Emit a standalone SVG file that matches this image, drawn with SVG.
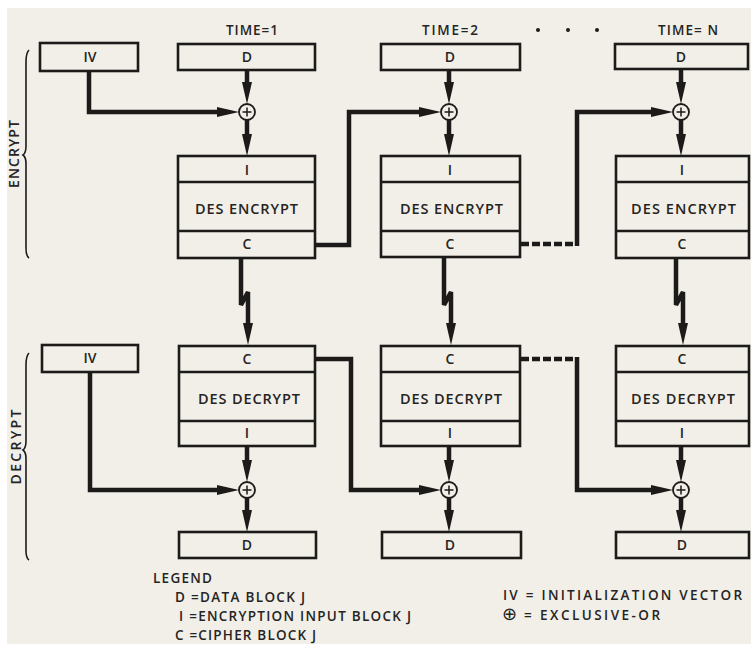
<svg xmlns="http://www.w3.org/2000/svg" width="751" height="645" viewBox="0 0 751 645">
<defs>
<style>
.bg{fill:#f1efe8}
.box{fill:none;stroke:#1d1b19;stroke-width:2.6}
.div{stroke:#1d1b19;stroke-width:2.4}
.wa{fill:none;stroke:#1d1b19;stroke-width:4.5;stroke-linejoin:miter;marker-end:url(#ah)}
.dash{fill:none;stroke:#1d1b19;stroke-width:4.5;stroke-dasharray:8 3}
.xor{fill:#f1efe8;stroke:#1d1b19;stroke-width:1.8}
.pl{stroke:#1d1b19;stroke-width:1.5}
.brace{fill:none;stroke:#1d1b19;stroke-width:1.6}
text{font-family:"Open Sans","Liberation Sans",sans-serif;font-weight:600;fill:#262422}
.t{font-size:14px;text-anchor:middle}
.big{font-size:14px;text-anchor:middle}
.des{font-size:14.5px}
.lg{font-size:13.5px}
</style>
<marker id="ah" markerUnits="userSpaceOnUse" markerWidth="22" markerHeight="11" refX="10" refY="5.5" orient="auto" viewBox="0 0 22 11">
<path d="M0,0.5 L22,5.5 L0,10.5 Z" fill="#1d1b19"/>
</marker>
</defs>
<rect x="0" y="0" width="751" height="645" fill="#ffffff"/>
<rect class="bg" x="7" y="8" width="744" height="636"/>

<g id="headings">
<text x="226" y="35" class="lg" textLength="52">TIME=1</text>
<text x="422" y="35" class="lg" textLength="56">TIME=2</text>
<text x="658" y="35" class="lg" textLength="60">TIME= N</text>
<circle cx="538" cy="30" r="2" fill="#1d1b19"/>
<circle cx="568" cy="30" r="2" fill="#1d1b19"/>
<circle cx="597" cy="30" r="2" fill="#1d1b19"/>
</g>

<g id="side-labels">
<text x="19" y="154" class="big" transform="rotate(-90 19 154)" textLength="68">ENCRYPT</text>
<path class="brace" d="M29,50 Q26,53 26,62 L26,146 Q26,153 23,155 Q26,157 26,164 L26,248 Q26,256 29,258"/>
<text x="21" y="447" class="big" transform="rotate(-90 21 447)" textLength="75">DECRYPT</text>
<path class="brace" d="M29,353 Q26,356 26,365 L26,441 Q26,448 23,450 Q26,452 26,459 L26,551 Q26,558 29,560"/>
</g>

<g id="connectors">
<line class="wa" x1="247" y1="70" x2="247" y2="92"/>
<line class="wa" x1="247" y1="120" x2="247" y2="144"/>
<line class="wa" x1="449" y1="70" x2="449" y2="92"/>
<line class="wa" x1="449" y1="120" x2="449" y2="144"/>
<line class="wa" x1="681" y1="69" x2="681" y2="92"/>
<line class="wa" x1="681" y1="120" x2="681" y2="144"/>
<path class="wa" d="M89,71 V112 H227"/>
<path class="wa" d="M315,245 H349 V112 H429"/>
<path class="dash" d="M521,244 H576"/>
<path class="wa" d="M577,246 V112 H661"/>
<path class="wa" d="M241,258 V305 L248,292 V333"/>
<path class="wa" d="M444,257 V305 L451,292 V333"/>
<path class="wa" d="M676,258 V305 L683,292 V333"/>
<line class="wa" x1="247" y1="446" x2="247" y2="470"/>
<line class="wa" x1="247" y1="498" x2="247" y2="520"/>
<line class="wa" x1="449" y1="446" x2="449" y2="470"/>
<line class="wa" x1="449" y1="498" x2="449" y2="520"/>
<line class="wa" x1="681" y1="446" x2="681" y2="470"/>
<line class="wa" x1="681" y1="498" x2="681" y2="520"/>
<path class="wa" d="M90,372 V490 H227"/>
<path class="wa" d="M316,359 H351 V490 H429"/>
<path class="dash" d="M521,359 H576"/>
<path class="wa" d="M577,357 V490 H661"/>
</g>

<g id="iv-enc"><rect class="box" x="40" y="43" width="98" height="28"/><text x="90" y="62" class="t">IV</text></g>
<g id="d-in-1"><rect class="box" x="178" y="44" width="137" height="26"/><text x="247" y="62" class="t">D</text></g>
<g id="d-in-2"><rect class="box" x="381" y="44" width="139" height="26"/><text x="450" y="62" class="t">D</text></g>
<g id="d-in-3"><rect class="box" x="615" y="44" width="133" height="25"/><text x="681" y="62" class="t">D</text></g>

<g id="xor-enc-1"><circle class="xor" cx="247" cy="112" r="8"/><path class="pl" d="M242.5,112 H251.5 M247,107.5 V116.5"/></g>
<g id="xor-enc-2"><circle class="xor" cx="449" cy="112" r="8"/><path class="pl" d="M444.5,112 H453.5 M449,107.5 V116.5"/></g>
<g id="xor-enc-3"><circle class="xor" cx="681" cy="112" r="8"/><path class="pl" d="M676.5,112 H685.5 M681,107.5 V116.5"/></g>

<g id="enc-1">
<rect class="box" x="178" y="156" width="137" height="102"/>
<line class="div" x1="178" y1="182" x2="315" y2="182"/><line class="div" x1="178" y1="231" x2="315" y2="231"/>
<text x="247" y="175" class="t">I</text>
<text x="195" y="214" class="des" textLength="103">DES ENCRYPT</text>
<text x="247" y="249" class="t">C</text>
</g>
<g id="enc-2">
<rect class="box" x="381" y="156" width="139" height="101"/>
<line class="div" x1="381" y1="182" x2="520" y2="182"/><line class="div" x1="381" y1="231" x2="520" y2="231"/>
<text x="450" y="175" class="t">I</text>
<text x="400" y="214" class="des" textLength="103">DES ENCRYPT</text>
<text x="450" y="249" class="t">C</text>
</g>
<g id="enc-3">
<rect class="box" x="616" y="156" width="133" height="102"/>
<line class="div" x1="616" y1="182" x2="749" y2="182"/><line class="div" x1="616" y1="231" x2="749" y2="231"/>
<text x="682" y="175" class="t">I</text>
<text x="631" y="214" class="des" textLength="105">DES ENCRYPT</text>
<text x="682" y="249" class="t">C</text>
</g>

<g id="iv-dec"><rect class="box" x="42" y="345" width="96" height="27"/><text x="90" y="363" class="t">IV</text></g>
<g id="dec-1">
<rect class="box" x="179" y="346" width="136" height="100"/>
<line class="div" x1="179" y1="372" x2="315" y2="372"/><line class="div" x1="179" y1="421" x2="315" y2="421"/>
<text x="247" y="364" class="t">C</text>
<text x="198" y="404" class="des" textLength="102">DES DECRYPT</text>
<text x="247" y="438" class="t">I</text>
</g>
<g id="dec-2">
<rect class="box" x="381" y="346" width="139" height="100"/>
<line class="div" x1="381" y1="372" x2="520" y2="372"/><line class="div" x1="381" y1="421" x2="520" y2="421"/>
<text x="450" y="364" class="t">C</text>
<text x="400" y="404" class="des" textLength="102">DES DECRYPT</text>
<text x="450" y="438" class="t">I</text>
</g>
<g id="dec-3">
<rect class="box" x="616" y="346" width="133" height="100"/>
<line class="div" x1="616" y1="372" x2="749" y2="372"/><line class="div" x1="616" y1="421" x2="749" y2="421"/>
<text x="682" y="364" class="t">C</text>
<text x="631" y="404" class="des" textLength="104">DES DECRYPT</text>
<text x="682" y="438" class="t">I</text>
</g>

<g id="xor-dec-1"><circle class="xor" cx="247" cy="490" r="8"/><path class="pl" d="M242.5,490 H251.5 M247,485.5 V494.5"/></g>
<g id="xor-dec-2"><circle class="xor" cx="449" cy="490" r="8"/><path class="pl" d="M444.5,490 H453.5 M449,485.5 V494.5"/></g>
<g id="xor-dec-3"><circle class="xor" cx="681" cy="490" r="8"/><path class="pl" d="M676.5,490 H685.5 M681,485.5 V494.5"/></g>

<g id="d-out-1"><rect class="box" x="179" y="532" width="137" height="26"/><text x="247" y="550" class="t">D</text></g>
<g id="d-out-2"><rect class="box" x="382" y="532" width="139" height="26"/><text x="450" y="550" class="t">D</text></g>
<g id="d-out-3"><rect class="box" x="616" y="532" width="133" height="26"/><text x="682" y="550" class="t">D</text></g>

<g id="legend">
<text x="153" y="583" class="lg" textLength="59">LEGEND</text>
<text x="175" y="602" class="lg" textLength="130">D =DATA BLOCK J</text>
<text x="179" y="621" class="lg" textLength="232">I =ENCRYPTION INPUT BLOCK J</text>
<text x="175" y="640" class="lg" textLength="141">C =CIPHER BLOCK J</text>
<text x="503" y="600" class="lg" textLength="239">IV = INITIALIZATION VECTOR</text>
<text x="502" y="620" class="lg"><tspan style="font-family:'DejaVu Sans',sans-serif;font-weight:normal;font-size:18px">⊕</tspan><tspan x="518" textLength="142"> = EXCLUSIVE-OR</tspan></text>
</g>
</svg>
